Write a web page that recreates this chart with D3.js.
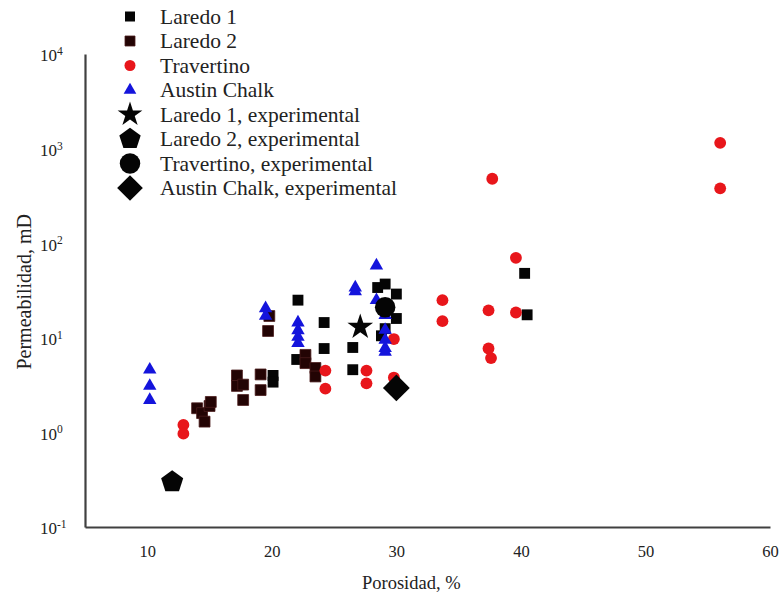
<!DOCTYPE html>
<html>
<head>
<meta charset="utf-8">
<script src="https://cdn.jsdelivr.net/npm/d3@7"></script>
<style>
  html, body { margin: 0; padding: 0; background: #fff; }
  svg { display: block; font-family: "Liberation Serif", "Times New Roman", serif; }
</style>
</head>
<body>
<svg id="chart" width="781" height="598"></svg>
<script>
// Porosity (%) vs permeability (mD) samples per rock type
const laredo1 = [
  [20.1, 4.0], [20.1, 3.4], [22.1, 25], [22.0, 5.9], [24.2, 14.5], [24.2, 7.7],
  [26.5, 7.9], [26.5, 4.6], [28.5, 34], [29.1, 37], [30.0, 29], [30.0, 16],
  [29.1, 12.5], [28.8, 10.5], [40.3, 48], [40.5, 17.5]
];
const laredo2 = [
  [14.0, 1.8], [14.4, 1.6], [14.6, 1.3], [15.0, 1.9], [15.1, 2.1],
  [17.2, 4.0], [17.2, 3.1], [17.7, 3.2], [17.7, 2.2], [19.1, 4.1], [19.1, 2.8],
  [19.7, 11.8], [19.8, 17], [22.7, 6.6], [22.7, 5.4], [23.5, 4.8], [23.5, 3.9]
];
const travertino = [
  [12.9, 1.2], [12.9, 0.97], [24.3, 4.5], [24.3, 2.9], [27.6, 4.5], [27.6, 3.3],
  [29.8, 9.7], [29.8, 3.8], [33.7, 25], [33.7, 15], [37.4, 19.5], [37.4, 7.7],
  [37.6, 6.1], [37.7, 480], [39.6, 70], [39.6, 18.5], [56.0, 1150], [56.0, 380]
];
const austinChalk = [
  [10.2, 4.6], [10.2, 3.1], [10.2, 2.2], [19.5, 20.5], [19.5, 17],
  [22.1, 14.5], [22.1, 12], [22.1, 10.2], [22.1, 8.8], [26.7, 34], [26.7, 31],
  [28.4, 58], [28.4, 25], [29.1, 17.4], [29.1, 12.1], [29.1, 9.5], [29.1, 7.8], [29.1, 7.1]
];
// Experimental measurements (one per rock type)
const laredo1Exp = [[27.1, 13]];
const laredo2Exp = [[12.0, 0.3]];
const travertinoExp = [[29.1, 21]];
const austinChalkExp = [[30.0, 2.95]];

const xTicks = [10, 20, 30, 40, 50, 60];
const yTickExponents = [-1, 0, 1, 2, 3, 4];
const legendLabels = [
  "Laredo 1", "Laredo 2", "Travertino", "Austin Chalk",
  "Laredo 1, experimental", "Laredo 2, experimental",
  "Travertino, experimental", "Austin Chalk, experimental"
];

const svg = d3.select("#chart");

const x = d3.scaleLinear().domain([5, 60]).range([85, 770]);
const y = d3.scaleLog().domain([0.1, 10000]).range([527, 54]);

// Regular pentagon symbol type
const symbolPentagon = {
  draw(context, size) {
    const r = Math.sqrt(size / 2.3776);
    for (let i = 0; i < 5; i++) {
      const a = -Math.PI / 2 + i * 2 * Math.PI / 5;
      const px = r * Math.cos(a), py = r * Math.sin(a);
      if (i === 0) context.moveTo(px, py); else context.lineTo(px, py);
    }
    context.closePath();
  }
};

const styles = {
  l1:   { type: d3.symbolSquare,   size: 118, fill: "#050505", stroke: "none", rot: 0 },
  l2:   { type: d3.symbolSquare,   size: 118, fill: "#230404", stroke: "#4a1c1c", rot: 0 },
  tr:   { type: d3.symbolCircle,   size: 110, fill: "#e8161b", stroke: "none", rot: 0 },
  ac:   { type: d3.symbolTriangle, size: 78,  fill: "#1414dc", stroke: "none", rot: 0 },
  l1e:  { type: d3.symbolStar,     size: 205, fill: "#050505", stroke: "none", rot: 0 },
  l2e:  { type: symbolPentagon,    size: 320, fill: "#050505", stroke: "none", rot: 0 },
  tre:  { type: d3.symbolCircle,   size: 330, fill: "#050505", stroke: "none", rot: 0 },
  ace:  { type: d3.symbolSquare,   size: 360, fill: "#050505", stroke: "none", rot: 45 }
};

function drawSeries(data, st) {
  const sym = d3.symbol().type(st.type).size(st.size);
  svg.append("g").selectAll("path").data(data).join("path")
    .attr("d", sym)
    .attr("transform", d => `translate(${x(d[0])},${y(d[1])}) rotate(${st.rot})`)
    .attr("fill", st.fill)
    .attr("stroke", st.stroke)
    .attr("stroke-width", st.stroke === "none" ? 0 : 0.8);
}

drawSeries(laredo1, styles.l1);
drawSeries(laredo2, styles.l2);
drawSeries(travertino, styles.tr);
drawSeries(austinChalk, styles.ac);
drawSeries(laredo1Exp, styles.l1e);
drawSeries(laredo2Exp, styles.l2e);
drawSeries(travertinoExp, styles.tre);
drawSeries(austinChalkExp, styles.ace);

// Axes: plain lines with text labels, no tick marks
const xAxis = svg.append("g").attr("transform", "translate(0,527)")
  .call(d3.axisBottom(x).tickValues(xTicks).tickSize(0).tickPadding(18).tickFormat(d3.format("d")));
const yAxis = svg.append("g").attr("transform", "translate(85,0)")
  .call(d3.axisLeft(y).tickValues(yTickExponents.map(e => Math.pow(10, e))).tickSize(0).tickFormat(""));

[xAxis, yAxis].forEach(g => {
  g.select(".domain").attr("stroke", "#404040").attr("stroke-width", 2.2);
});
xAxis.selectAll(".tick text")
  .attr("font-family", "Liberation Serif, serif")
  .attr("font-size", 16.5).attr("fill", "#222");

// Power-of-ten labels on the log axis
yAxis.selectAll(".tick").each(function (d) {
  const t = d3.select(this).append("text")
    .attr("x", -45).attr("dy", "0.4em")
    .attr("text-anchor", "start")
    .attr("font-family", "Liberation Serif, serif")
    .attr("font-size", 17).attr("fill", "#222");
  t.append("tspan").text("10");
  t.append("tspan").attr("dy", "-0.55em").attr("font-size", 11.5)
    .text(String(Math.round(Math.log10(d))));
});

svg.append("text")
  .attr("x", x(31.2)).attr("y", 589)
  .attr("text-anchor", "middle")
  .attr("font-size", 18.5).attr("fill", "#222")
  .text("Porosidad, %");

svg.append("text")
  .attr("transform", `translate(31,${y(10) - 46}) rotate(-90)`)
  .attr("text-anchor", "middle")
  .attr("font-size", 20).attr("fill", "#222")
  .text("Permeabilidad, mD");

// Legend
const legendKeys = ["l1", "l2", "tr", "ac", "l1e", "l2e", "tre", "ace"];
const legendSizes = [100, 100, 95, 70, 190, 300, 330, 330];
const legend = svg.append("g");
legendKeys.forEach((k, i) => {
  const st = styles[k];
  const cy = 16.5 + i * 24.5;
  legend.append("path")
    .attr("d", d3.symbol().type(st.type).size(legendSizes[i]))
    .attr("transform", `translate(130,${cy}) rotate(${st.rot})`)
    .attr("fill", st.fill)
    .attr("stroke", st.stroke)
    .attr("stroke-width", st.stroke === "none" ? 0 : 0.8);
  legend.append("text")
    .attr("x", 160).attr("y", cy).attr("dy", "0.33em")
    .attr("font-size", 21.5).attr("fill", "#222")
    .text(legendLabels[i]);
});
</script>
</body>
</html>
